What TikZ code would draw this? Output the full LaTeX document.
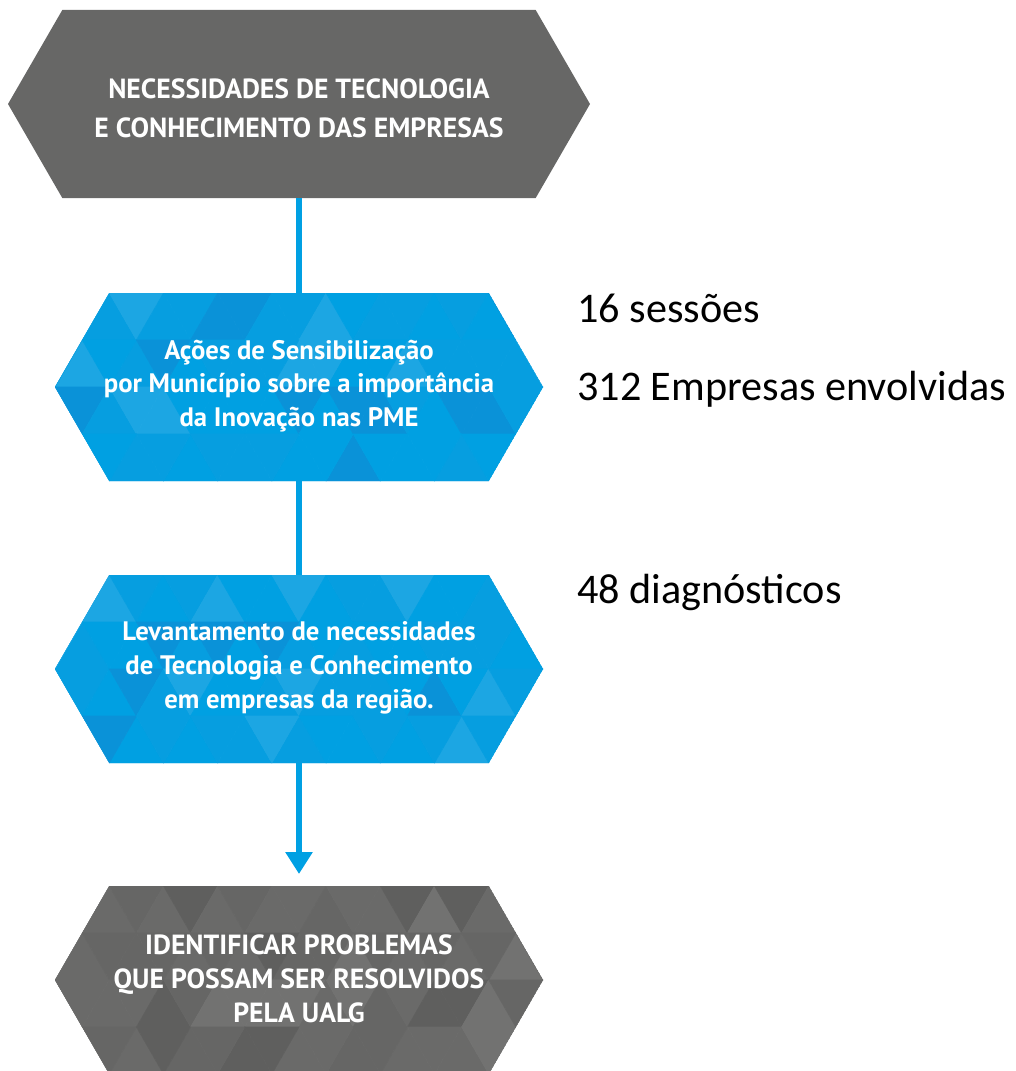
\documentclass[tikz,border=0pt]{standalone}
\usepackage{fontspec}
\usepackage{tikz}
\usetikzlibrary{positioning, arrows.meta}
\newfontfamily\hexfont{PT Sans}
\newfontfamily\notefont{Carlito}

\definecolor{blueA}{HTML}{1CA6E3}
\definecolor{blueB}{HTML}{069EE0}
\definecolor{blueC}{HTML}{0A92D8}
\definecolor{blueD}{HTML}{00A0E2}
\definecolor{greyA}{HTML}{727271}
\definecolor{greyB}{HTML}{666665}
\definecolor{greyC}{HTML}{5F5F5E}
\definecolor{greyD}{HTML}{6A6A69}
\definecolor{greyTop}{HTML}{676766}
\definecolor{lineBlue}{HTML}{00A0E3}

\pgfmathdeclarerandomlist{bluetones}{{blueA}{blueB}{blueB}{blueC}{blueD}{blueD}}
\pgfmathdeclarerandomlist{greytones}{{greyA}{greyB}{greyB}{greyC}{greyD}{greyD}}

\newcommand{\hexpath}[3]{(#1-#3,#2) -- (#1-#3+54.3,#2-94) -- (#1+#3-54.3,#2-94)
  -- (#1+#3,#2) -- (#1+#3-54.3,#2+94) -- (#1-#3+54.3,#2+94) -- cycle}

\newcommand{\hexmosaic}[3]{%
  \begin{scope}
    \clip \hexpath{#1}{#2}{244};
    \foreach \j in {0,...,3}{
      \pgfmathsetmacro{\ytop}{#2-94+47*\j}
      \pgfmathsetmacro{\ybot}{\ytop+47}
      \pgfmathsetmacro{\xtop}{#1-189.7-27.1*mod(\j,2)}
      \pgfmathsetmacro{\xbot}{#1-189.7-27.1*mod(\j+1,2)}
      \foreach \k in {-2,...,8}{
        \pgfmathrandomitem{\tone}{#3}
        \path[fill=\tone, draw=\tone, line width=0.4pt]
          (\xbot+54.2*\k,\ybot) -- (\xbot+54.2*\k+54.2,\ybot) -- (\xbot+54.2*\k+27.1,\ytop) -- cycle;
        \pgfmathrandomitem{\tone}{#3}
        \path[fill=\tone, draw=\tone, line width=0.4pt]
          (\xtop+54.2*\k,\ytop) -- (\xtop+54.2*\k+54.2,\ytop) -- (\xtop+54.2*\k+27.1,\ybot) -- cycle;
      }
    }
  \end{scope}}

\begin{document}
\begin{tikzpicture}[x=0.025cm, y=-0.025cm,
    hextext/.style={text=white, align=center, font=\hexfont\bfseries\fontsize{19}{24}\selectfont},
    capstext/.style={hextext, font=\hexfont\bfseries\fontsize{19.7}{24.2}\selectfont},
    notetext/.style={anchor=base west, inner sep=0pt, font=\notefont\fontsize{30}{36}\selectfont},
    link/.style={draw=lineBlue, line width=4.3pt}]
  \clip (0,0) rectangle (1015,1071);
  \pgfmathsetseed{12}

  \fill [greyTop] \hexpath{299}{104}{291};
  \hexmosaic{299}{387}{bluetones}
  \hexmosaic{299}{669}{bluetones}
  \hexmosaic{299}{980}{greytones}

  \node [capstext, font=\hexfont\bfseries\fontsize{19.7}{27.7}\selectfont] (necessidades) at (299,108)
    {NECESSIDADES DE TECNOLOGIA\\E CONHECIMENTO DAS EMPRESAS};
  \node [hextext] (acoes) at (299,386) {Ações de Sensibilização\\por Município sobre a importância\\da Inovação nas PME};
  \node [hextext] (levantamento) at (299,668) {Levantamento de necessidades\\de Tecnologia e Conhecimento\\em empresas da região.};
  \node [capstext] (identificar) at (299,979) {IDENTIFICAR PROBLEMAS\\QUE POSSAM SER RESOLVIDOS\\PELA UALG};

  \coordinate (necessidades-s) at (299,198);
  \coordinate (acoes-n) at (299,293);
  \coordinate (acoes-s) at (299,481);
  \coordinate (levantamento-n) at (299,575);
  \coordinate (levantamento-s) at (299,763);
  \coordinate (identificar-n) at (299,874);

  \draw [link] (necessidades-s) -- (acoes-n);
  \draw [link] (acoes-s) -- (levantamento-n);
  \draw [link, -{Triangle[width=18.5pt, length=15.6pt]}] (levantamento-s) -- (identificar-n);

  \node [notetext] (sessoes) at (577,322) {16 sessões};
  \node [notetext] (empresas) at (577,400) {312 Empresas envolvidas};
  \node [notetext] (diagnosticos) at (577,603) {48 diagnósticos};
\end{tikzpicture}
\end{document}
